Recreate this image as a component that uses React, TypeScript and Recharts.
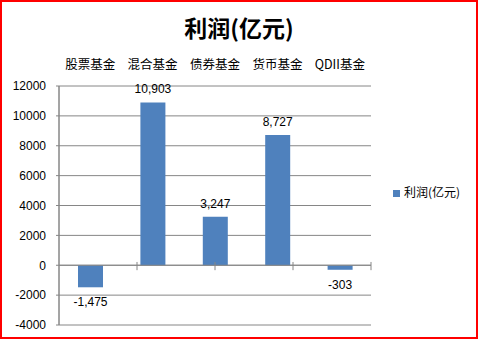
import React from "react";
import {
  BarChart,
  Bar,
  XAxis,
  YAxis,
  CartesianGrid,
  ReferenceLine,
  Legend,
  LabelList,
} from "recharts";

const categories = ["股票基金", "混合基金", "债券基金", "货币基金", "QDII基金"];
const profits = [-1475, 10903, 3247, 8727, -303];
const yTicks = [-4000, -2000, 0, 2000, 4000, 6000, 8000, 10000, 12000];
const boundaryTicks = [1, 2, 3, 4, 5];

const data = categories.map((name, i) => ({ name, profit: profits[i] }));

const GRID = "#868686";
const BAR = "#4F81BD";
const NUM_FONT = "'Liberation Sans', Arial, sans-serif";
const CJK_FONT = "'Noto Sans CJK SC', 'Liberation Sans', sans-serif";

function ValueLabel(props: any) {
  const { x, y, width, height, value } = props;
  const top = Math.min(y, y + height);
  const bottom = Math.max(y, y + height);
  const cy = value >= 0 ? top - 13 : bottom + 15;
  return (
    <text
      x={x + width / 2}
      y={cy}
      textAnchor="middle"
      dominantBaseline="central"
      fontSize={12}
      fontFamily={NUM_FONT}
      fill="#000"
    >
      {Number(value).toLocaleString("en-US")}
    </text>
  );
}

export default function App() {
  return (
    <div
      style={{
        position: "absolute",
        left: 0,
        top: 0,
        width: 478,
        height: 339,
        boxSizing: "border-box",
        border: "2px solid #ff0000",
        background: "#fff",
      }}
    >
      <div
        style={{
          position: "absolute",
          left: -2,
          top: 10,
          width: 478,
          textAlign: "center",
          fontFamily: CJK_FONT,
          fontWeight: "bold",
          fontSize: 23,
          lineHeight: "30px",
          color: "#000",
        }}
      >
        利润(亿元)
      </div>
      <div style={{ position: "absolute", left: -2, top: -2 }}>
        <BarChart
          width={478}
          height={339}
          data={data}
          margin={{ top: 56, right: 27, bottom: 14, left: 0 }}
        >
          <CartesianGrid vertical={false} stroke={GRID} strokeWidth={1} />
          <XAxis
            xAxisId="cat"
            dataKey="name"
            orientation="top"
            height={30}
            axisLine={false}
            tickLine={false}
            tickMargin={11}
            interval={0}
            tick={{ fontSize: 12.5, fontFamily: CJK_FONT, fill: "#000" }}
          />
          <XAxis xAxisId="grid" type="number" domain={[0, 5]} hide />
          <YAxis
            width={59}
            domain={[-4000, 12000]}
            ticks={yTicks}
            interval={0}
            allowDataOverflow
            axisLine={{ stroke: GRID }}
            tickLine={{ stroke: GRID }}
            tickSize={3}
            tickMargin={10}
            tick={{ fontSize: 12, fontFamily: NUM_FONT, fill: "#000" }}
          />
          <ReferenceLine xAxisId="cat" y={0} stroke={GRID} />
          <ReferenceLine xAxisId="grid" x={0} stroke={GRID} />
          {boundaryTicks.map((t) => (
            <ReferenceLine
              key={t}
              xAxisId="grid"
              segment={[
                { x: t, y: 220 },
                { x: t, y: -330 },
              ]}
              stroke={GRID}
            />
          ))}
          <Legend
            layout="vertical"
            align="right"
            verticalAlign="middle"
            width={80}
            iconType="square"
            iconSize={7}
            formatter={(v: string) => (
              <span style={{ color: "#000", fontFamily: CJK_FONT, fontSize: 12 }}>{v}</span>
            )}
            wrapperStyle={{ left: 393, top: 183, right: "auto" }}
          />
          <Bar
            xAxisId="cat"
            dataKey="profit"
            name="利润(亿元)"
            fill={BAR}
            barSize={25}
            isAnimationActive={false}
          >
            <LabelList dataKey="profit" content={ValueLabel} />
          </Bar>
        </BarChart>
      </div>
    </div>
  );
}
